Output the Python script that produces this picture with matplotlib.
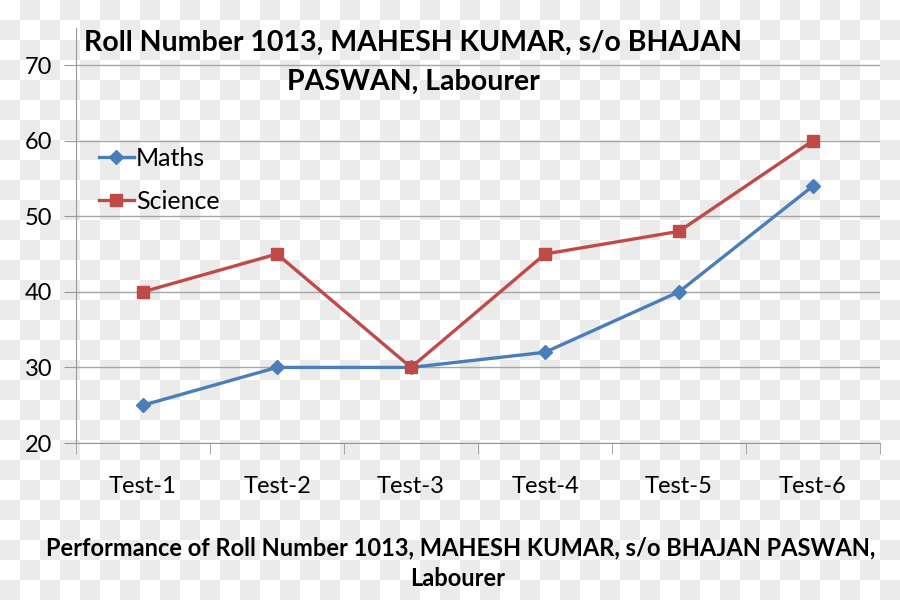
import numpy as np
import matplotlib
matplotlib.use("Agg")
import matplotlib.pyplot as plt

categories = ["Test-1", "Test-2", "Test-3", "Test-4", "Test-5", "Test-6"]
maths = [25, 30, 30, 32, 40, 54]
science = [40, 45, 30, 45, 48, 60]
yticks = [20, 30, 40, 50, 60, 70]

FONT = ["Lato", "DejaVu Sans"]
plt.rcParams["font.family"] = FONT

W, H = 900, 600
fig = plt.figure(figsize=(9, 6), dpi=100)

# checkerboard background (transparency pattern)
yy, xx = np.mgrid[0:H, 0:W]
chk = (((yy // 20) + (xx // 20)) % 2).astype(float)
bg = np.ones((H, W, 3))
bg[chk == 1] = 0.922
axbg = fig.add_axes([0, 0, 1, 1], zorder=-5)
axbg.imshow(bg, aspect="auto", interpolation="nearest", extent=(0, W, H, 0))
axbg.set_axis_off()

ax = fig.add_axes([76 / W, 1 - 443 / H, (880 - 76) / W, (443 - 28) / H], zorder=1)
ax.patch.set_alpha(0)

x = np.arange(len(categories))
ax.plot(x, maths, color="#4A7EBB", lw=2.4, marker="D", ms=7.5, label="Maths", zorder=3)
ax.plot(x, science, color="#BE4B48", lw=2.4, marker="s", ms=8, label="Science", zorder=3)

ax.set_xlim(-0.5, len(categories) - 0.5)
ax.set_ylim(20, 74.9)
ax.set_yticks(yticks)
ax.set_xticks(x)
ax.set_xticklabels(categories, fontsize=17)
ax.set_xticks(np.arange(-0.5, len(categories)), minor=True)
ax.tick_params(axis="x", which="major", length=0, pad=24)
ax.tick_params(axis="x", which="minor", length=8, color="#999999", direction="out")
ax.tick_params(axis="y", length=9, color="#999999", labelsize=17, pad=8)

ax.grid(axis="y", color="#a6a6a6", lw=1)
ax.set_axisbelow(True)
for s in ["top", "right"]:
    ax.spines[s].set_visible(False)
ax.spines["left"].set_color("#999999")
ax.spines["bottom"].set_color("#999999")

leg = ax.legend(loc="upper left", bbox_to_anchor=(0.0, 0.768), frameon=False,
                fontsize=18, handlelength=1.4, labelspacing=0.8, handletextpad=0.1)

fig.text(413 / W, 1 - 43 / H, "Roll Number 1013, MAHESH KUMAR, s/o BHAJAN",
         ha="center", va="center", fontsize=20.5, fontweight="bold")
fig.text(413 / W, 1 - 82 / H, "PASWAN, Labourer",
         ha="center", va="center", fontsize=20.5, fontweight="bold")
fig.text(461 / W, 1 - 548 / H,
         "Performance of Roll Number 1013, MAHESH KUMAR, s/o BHAJAN PASWAN,",
         ha="center", va="center", fontsize=17, fontweight="bold")
fig.text(458 / W, 1 - 578 / H, "Labourer",
         ha="center", va="center", fontsize=17, fontweight="bold")

fig.savefig("out.png", dpi=100)
